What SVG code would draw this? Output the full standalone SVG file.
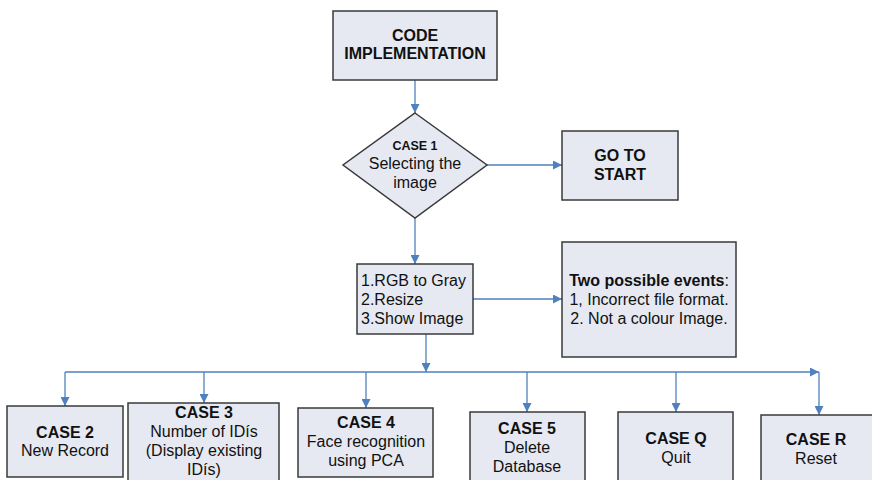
<svg xmlns="http://www.w3.org/2000/svg" width="872" height="480" viewBox="0 0 872 480">
<defs>
<marker id="ah" viewBox="0 0 10 10" refX="10" refY="5" markerWidth="9" markerHeight="9" markerUnits="userSpaceOnUse" orient="auto">
<path d="M0,0 L10,5 L0,10 z" fill="#4f81bd"/>
</marker>
<style>
.box{fill:#e6e9f2;stroke:#3a3a3a;stroke-width:1.5}
.t{font-family:"Liberation Sans",Arial,sans-serif;font-size:16px;fill:#111;text-anchor:middle}
.b{font-weight:bold}
.c{fill:none;stroke:#4f81bd;stroke-width:1.3}
</style>
</defs>
<rect width="872" height="480" fill="#fff"/>
<g id="connectors">
<line class="c" x1="415" y1="80" x2="415" y2="113" marker-end="url(#ah)"/>
<line class="c" x1="487" y1="165" x2="562" y2="165" marker-end="url(#ah)"/>
<line class="c" x1="415" y1="218" x2="415" y2="264" marker-end="url(#ah)"/>
<line class="c" x1="473" y1="299" x2="562" y2="299" marker-end="url(#ah)"/>
<line class="c" x1="426" y1="334" x2="426" y2="372" marker-end="url(#ah)"/>
<line class="c" x1="65" y1="372" x2="819" y2="372" marker-end="url(#ah)"/>
<line class="c" x1="65" y1="372" x2="65" y2="406" marker-end="url(#ah)"/>
<line class="c" x1="204" y1="372" x2="204" y2="403" marker-end="url(#ah)"/>
<line class="c" x1="366" y1="372" x2="366" y2="408" marker-end="url(#ah)"/>
<line class="c" x1="527" y1="372" x2="527" y2="412" marker-end="url(#ah)"/>
<line class="c" x1="676" y1="372" x2="676" y2="412" marker-end="url(#ah)"/>
<line class="c" x1="819" y1="372" x2="819" y2="415" marker-end="url(#ah)"/>
</g>
<g id="code">
<rect class="box" x="333" y="11" width="164" height="69"/>
<text class="t b" x="415" y="41">CODE</text>
<text class="t b" x="415" y="59">IMPLEMENTATION</text>
</g>
<g id="case1">
<polygon class="box" points="415,113 487,165 415,218 343,165"/>
<text class="t b" x="415" y="150" style="font-size:12.5px">CASE 1</text>
<text class="t" x="415" y="169">Selecting the</text>
<text class="t" x="415" y="188">image</text>
</g>
<g id="gotostart">
<rect class="box" x="562" y="131" width="116" height="69"/>
<text class="t b" x="620" y="161">GO TO</text>
<text class="t b" x="620" y="180">START</text>
</g>
<g id="process">
<rect class="box" x="357" y="264" width="116" height="70"/>
<text class="t" x="361" y="286" text-anchor="start" style="text-anchor:start">1.RGB to Gray</text>
<text class="t" x="361" y="305" style="text-anchor:start">2.Resize</text>
<text class="t" x="361" y="324" style="text-anchor:start">3.Show Image</text>
</g>
<g id="events">
<rect class="box" x="562" y="242" width="174" height="115"/>
<text class="t" x="649" y="286"><tspan class="b">Two possible events</tspan>:</text>
<text class="t" x="649" y="305">1, Incorrect file format.</text>
<text class="t" x="649" y="324">2. Not a colour Image.</text>
</g>
<g id="case2">
<rect class="box" x="7" y="406" width="116" height="71"/>
<text class="t b" x="65" y="438">CASE 2</text>
<text class="t" x="65" y="456">New Record</text>
</g>
<g id="case3">
<rect class="box" x="128" y="403" width="151" height="78"/>
<text class="t b" x="204" y="418">CASE 3</text>
<text class="t" x="204" y="437">Number of IDís</text>
<text class="t" x="204" y="456">(Display existing</text>
<text class="t" x="204" y="475">IDís)</text>
</g>
<g id="case4">
<rect class="box" x="298" y="408" width="135" height="69"/>
<text class="t b" x="366" y="428">CASE 4</text>
<text class="t" x="366" y="447">Face recognition</text>
<text class="t" x="366" y="466">using PCA</text>
</g>
<g id="case5">
<rect class="box" x="470" y="412" width="115" height="70"/>
<text class="t b" x="527" y="434">CASE 5</text>
<text class="t" x="527" y="453">Delete</text>
<text class="t" x="527" y="472">Database</text>
</g>
<g id="caseq">
<rect class="box" x="618" y="412" width="115" height="70"/>
<text class="t b" x="676" y="444">CASE Q</text>
<text class="t" x="676" y="463">Quit</text>
</g>
<g id="caser">
<rect class="box" x="761" y="415" width="112" height="70"/>
<text class="t b" x="816" y="445">CASE R</text>
<text class="t" x="816" y="464">Reset</text>
</g>
</svg>
